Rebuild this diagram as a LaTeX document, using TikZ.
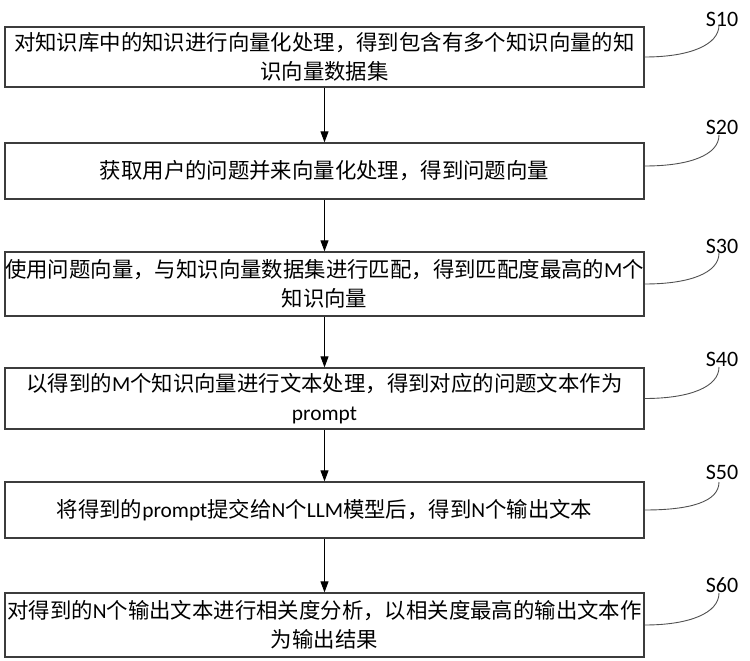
\documentclass[tikz,border=0pt]{standalone}
\usepackage{fontspec}
\setmainfont{Noto Sans CJK SC}
\newfontfamily\latinfont{Carlito}
\newcommand\lt[1]{{\latinfont #1}}
\usetikzlibrary{arrows.meta}
\definecolor{boxline}{HTML}{3C3C3C}
\definecolor{leadline}{HTML}{505050}
\begin{document}
\begin{tikzpicture}[x=1pt,y=-1pt,
  stepbox/.style={draw=boxline, line width=1.3pt, rectangle, minimum width=639pt, inner sep=0pt,
    align=center, font=\fontsize{21.4}{29}\selectfont, text=black},
  arr/.style={draw=black, line width=0.9pt, -{Triangle[length=11pt,width=8pt]}},
  lead/.style={draw=leadline, line width=0.9pt},
  steplabel/.style={inner sep=0pt, font=\latinfont\fontsize{22}{22}\selectfont}]
\useasboundingbox (0,0) rectangle (750,661);

\node[stepbox, minimum height=60pt] (b1) at (324.5,57)
  {对知识库中的知识进行向量化处理，得到包含有多个知识向量的知\\识向量数据集};
\node[stepbox, minimum height=56pt] (b2) at (324.5,171)
  {获取用户的问题并来向量化处理，得到问题向量};
\node[stepbox, minimum height=64pt] (b3) at (324.5,284)
  {使用问题向量，与知识向量数据集进行匹配，得到匹配度最高的\lt{M}个\\知识向量};
\node[stepbox, minimum height=61pt] (b4) at (324.5,398.5)
  {以得到的\lt{M}个知识向量进行文本处理，得到对应的问题文本作为\\\lt{prompt}};
\node[stepbox, minimum height=56pt] (b5) at (324.5,510)
  {将得到的\lt{prompt}提交给\lt{N}个\lt{LLM}模型后，得到\lt{N}个输出文本};
\node[stepbox, minimum height=64pt] (b6) at (324.5,625)
  {对得到的\lt{N}个输出文本进行相关度分析，以相关度最高的输出文本作\\为输出结果};

\draw[arr] (b1.south) -- (b2.north);
\draw[arr] (b2.south) -- (b3.north);
\draw[arr] (b3.south) -- (b4.north);
\draw[arr] (b4.south) -- (b5.north);
\draw[arr] (b5.south) -- (b6.north);

\node[steplabel] (s1) at (722,19.5) {S10};
\node[steplabel] (s2) at (722,127.5) {S20};
\node[steplabel] (s3) at (722,246) {S30};
\node[steplabel] (s4) at (722,359) {S40};
\node[steplabel] (s5) at (722,472) {S50};
\node[steplabel] (s6) at (722,585) {S60};

\coordinate (t1) at (719,25);
\coordinate (t2) at (719,135);
\coordinate (t3) at (719,253);
\coordinate (t4) at (719,367);
\coordinate (t5) at (719,482);
\coordinate (t6) at (719,593);

\draw[lead] (b1.east) .. controls +(45,0) and +(0,20) .. (t1);
\draw[lead] ([yshift=5pt]b2.east) .. controls +(45,0) and +(0,20) .. (t2);
\draw[lead] (b3.east) .. controls +(45,0) and +(0,20) .. (t3);
\draw[lead] (b4.east) .. controls +(45,0) and +(0,20) .. (t4);
\draw[lead] (b5.east) .. controls +(45,0) and +(0,20) .. (t5);
\draw[lead] (b6.east) .. controls +(45,0) and +(0,20) .. (t6);
\end{tikzpicture}
\end{document}
